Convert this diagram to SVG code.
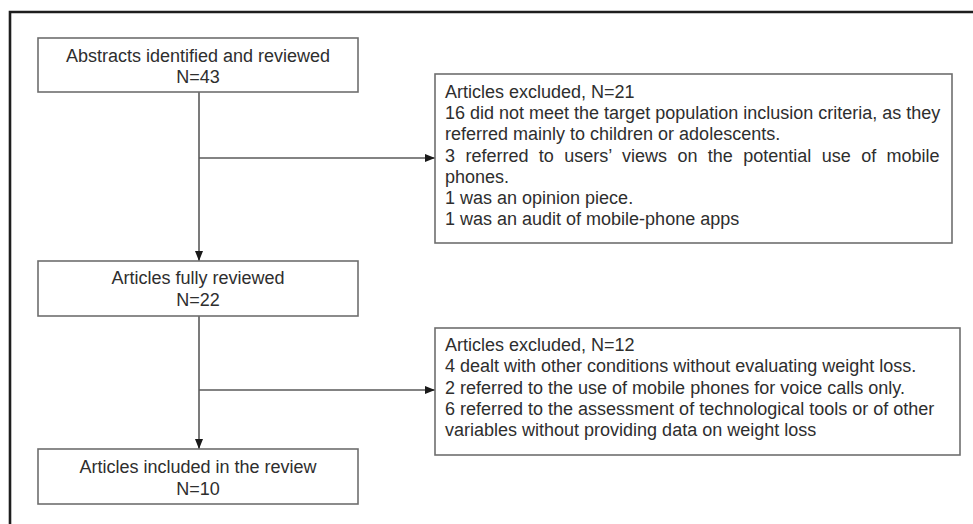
<svg xmlns="http://www.w3.org/2000/svg" width="973" height="524" viewBox="0 0 973 524">
<style>
  .box { fill: #ffffff; stroke: #6e6e6e; stroke-width: 1.6; }
  .t { font-family: "Liberation Sans", Arial, sans-serif; font-size: 18px; fill: #2e2e2e; }
  .c { text-anchor: middle; }
  .conn { stroke: #5a5a5a; stroke-width: 1.6; fill: none; }
  .frame { stroke: #1e1e1e; stroke-width: 2.6; fill: none; }
</style>
<defs>
  <marker id="arr" markerUnits="userSpaceOnUse" markerWidth="10" markerHeight="10" viewBox="0 0 10 10" refX="10" refY="5" orient="auto">
    <path d="M0,1 L10,5 L0,9 Z" fill="#1a1a1a"/>
  </marker>
</defs>
<rect width="973" height="524" fill="#ffffff"/>
<path class="frame" d="M10,530 V12 H980"/>

<g id="connectors">
  <line class="conn" x1="199" y1="92" x2="199" y2="261" marker-end="url(#arr)"/>
  <line class="conn" x1="199" y1="158" x2="435" y2="158" marker-end="url(#arr)"/>
  <line class="conn" x1="199" y1="316" x2="199" y2="449" marker-end="url(#arr)"/>
  <line class="conn" x1="199" y1="390" x2="435" y2="390" marker-end="url(#arr)"/>
</g>

<g id="abstracts">
  <rect class="box" x="38" y="38" width="320" height="54"/>
  <text class="t c" x="198" y="62">Abstracts identified and reviewed</text>
  <text class="t c" x="198" y="83">N=43</text>
</g>

<g id="excluded1">
  <rect class="box" x="435" y="74" width="517" height="169"/>
  <text class="t" x="445" y="98">Articles excluded, N=21</text>
  <text class="t" x="445" y="119.2">16 did not meet the target population inclusion criteria, as they</text>
  <text class="t" x="445" y="140.4">referred mainly to children or adolescents.</text>
  <text class="t" x="445" y="161.6" word-spacing="5.4">3 referred to users’ views on the potential use of mobile</text>
  <text class="t" x="445" y="182.8">phones.</text>
  <text class="t" x="445" y="204">1 was an opinion piece.</text>
  <text class="t" x="445" y="225.2">1 was an audit of mobile-phone apps</text>
</g>

<g id="fully-reviewed">
  <rect class="box" x="38" y="261" width="320" height="55"/>
  <text class="t c" x="198" y="284">Articles fully reviewed</text>
  <text class="t c" x="198" y="306">N=22</text>
</g>

<g id="excluded2">
  <rect class="box" x="435" y="328" width="525" height="127"/>
  <text class="t" x="445" y="351">Articles excluded, N=12</text>
  <text class="t" x="445" y="372.3">4 dealt with other conditions without evaluating weight loss.</text>
  <text class="t" x="445" y="393.6">2 referred to the use of mobile phones for voice calls only.</text>
  <text class="t" x="445" y="414.9">6 referred to the assessment of technological tools or of other</text>
  <text class="t" x="445" y="436.2">variables without providing data on weight loss</text>
</g>

<g id="included">
  <rect class="box" x="38" y="449" width="320" height="55"/>
  <text class="t c" x="198" y="473">Articles included in the review</text>
  <text class="t c" x="198" y="495">N=10</text>
</g>
</svg>
